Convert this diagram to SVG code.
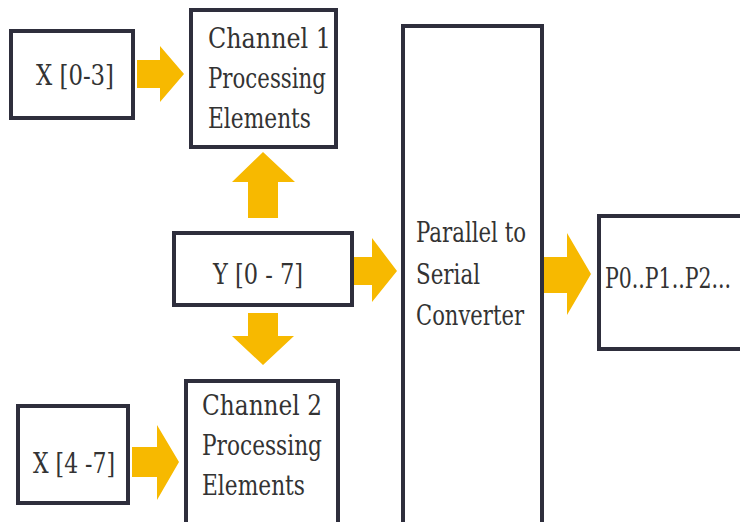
<svg xmlns="http://www.w3.org/2000/svg" width="740" height="522" viewBox="0 0 740 522">
<style>
.box{fill:#fff;stroke:#2e2e3c;stroke-width:4}
.arr{fill:#f7b900}
.t{font-family:'DejaVu Serif','Liberation Serif',serif;font-size:27px;fill:#333}
</style>
<rect width="740" height="522" fill="#fff"/>
<g id="connectors">
<path class="arr" d="M137,60 H160 V46 L184,74 L160,102 V88 H137 Z"/>
<path class="arr" d="M248,218 V182 H232 L263,152 L295,182 H278 V218 Z"/>
<path class="arr" d="M354,257 H372 V238 L397,271 L372,302 V285 H354 Z"/>
<path class="arr" d="M248,313 V336 H232 L263,365 L294,336 H278 V313 Z"/>
<path class="arr" d="M132,447 H157 V425 L179,462 L157,500 V477 H132 Z"/>
<path class="arr" d="M543,257 H567 V233 L591,274 L567,315 V293 H543 Z"/>
</g>
<g id="x03"><rect class="box" x="11" y="31" width="122" height="87"/><text class="t" x="75" y="85" text-anchor="middle" textLength="78" lengthAdjust="spacingAndGlyphs">X [0-3]</text></g>
<g id="ch1"><rect class="box" x="191" y="10" width="145" height="137"/>
<text class="t" x="208" y="48" textLength="123" lengthAdjust="spacingAndGlyphs">Channel 1</text><text class="t" x="208" y="88" textLength="118" lengthAdjust="spacingAndGlyphs">Processing</text><text class="t" x="208" y="128" textLength="103" lengthAdjust="spacingAndGlyphs">Elements</text></g>
<g id="y07"><rect class="box" x="174" y="233" width="178" height="72"/><text class="t" x="258" y="284" text-anchor="middle" textLength="90" lengthAdjust="spacingAndGlyphs">Y [0 - 7]</text></g>
<g id="x47"><rect class="box" x="18" y="406" width="110" height="97"/><text class="t" x="74" y="473" text-anchor="middle" textLength="82" lengthAdjust="spacingAndGlyphs">X [4 -7]</text></g>
<g id="ch2"><rect class="box" x="186" y="381" width="152" height="150"/>
<text class="t" x="202" y="415" textLength="120" lengthAdjust="spacingAndGlyphs">Channel 2</text><text class="t" x="202" y="455" textLength="120" lengthAdjust="spacingAndGlyphs">Processing</text><text class="t" x="202" y="495" textLength="103" lengthAdjust="spacingAndGlyphs">Elements</text></g>
<g id="p2s"><rect class="box" x="403" y="26" width="139" height="510"/>
<text class="t" x="416" y="242" textLength="110" lengthAdjust="spacingAndGlyphs">Parallel to</text><text class="t" x="416" y="284" textLength="64" lengthAdjust="spacingAndGlyphs">Serial</text><text class="t" x="416" y="325" textLength="108" lengthAdjust="spacingAndGlyphs">Converter</text></g>
<g id="out"><rect class="box" x="599" y="216" width="160" height="133"/><text class="t" x="605" y="288" textLength="126" lengthAdjust="spacingAndGlyphs">P0..P1..P2...</text></g>
</svg>
